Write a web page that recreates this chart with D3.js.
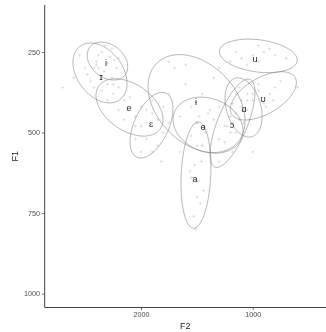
<!DOCTYPE html>
<html>
<head>
<meta charset="utf-8">
<script src="https://cdn.jsdelivr.net/npm/d3@7"></script>
<style>
  body { margin: 0; background: #fff; }
  svg { display: block; font-family: "Liberation Sans", Arial, sans-serif; will-change: transform; }
</style>
</head>
<body>
<svg id="chart" width="326" height="332"></svg>
<script>
// vowel labels and their mean positions (F2, F1 in Hz)
const vowels = ["i", "ɪ", "e", "ɛ", "ɨ", "ɵ", "a", "ɔ", "ɑ", "ʊ", "u"];
const labelF2 = [2313, 2358, 2107, 1910, 1508, 1445, 1517, 1185, 1078, 908, 979];
const labelF1 = [284, 328, 424, 474, 405, 483, 644, 477, 427, 396, 272];

// ellipse centre, half-widths and tilt (correlation) per vowel
const ellF2 = [2300, 2367, 2103, 1906, 1503, 1400, 1508, 1181, 1082, 905, 950];
const ellF1 = [278, 315, 422, 477, 410, 477, 632, 471, 422, 386, 262];
const ellRadF2 = [181, 242, 300, 192, 434, 313, 134, 201, 166, 296, 349];
const ellRadF1 = [59, 93, 89, 102, 152, 87, 165, 137, 92, 75, 52];
const ellRho = [-0.3, -0.35, -0.42, 0.5, -0.35, -0.2, 0.15, 0.7, -0.3, 0.55, -0.25];

// token measurements [F2, F1]
const tokens = [
  [2350,250],[2280,265],[2400,290],[2220,300],[2330,310],[2260,240],[2300,285],[2380,260],[2240,275],[2320,230],[2420,300],[2200,270],
  [2500,300],[2450,340],[2400,280],[2300,350],[2550,260],[2350,370],[2480,320],[2260,330],[2420,360],[2600,330],[2380,300],[2200,360],
  [2250,380],[2150,400],[2050,450],[2000,420],[2200,430],[2100,390],[1950,470],[2300,400],[2050,480],[2150,460],[1900,440],[2250,350],
  [1950,520],[1850,460],[1900,560],[1800,500],[2000,480],[1950,430],[1850,540],[1750,470],[2000,560],[1900,400],[1820,590],[2050,520],
  [1700,300],[1600,350],[1450,380],[1550,420],[1350,330],[1650,450],[1500,470],[1400,440],[1750,380],[1300,420],[1600,290],[1800,420],
  [1500,470],[1420,500],[1350,460],[1300,520],[1450,540],[1250,480],[1550,510],[1380,430],[1200,500],[1480,450],
  [1520,600],[1480,650],[1550,640],[1500,700],[1460,590],[1530,760],[1500,540],[1470,720],[1560,620],[1510,800],[1440,680],
  [1200,450],[1150,500],[1250,530],[1100,420],[1180,560],[1120,460],[1300,590],[1050,400],[1230,480],[1150,380],
  [1100,400],[1050,430],[1150,440],[1000,380],[1080,470],[1120,360],[1030,460],[1180,410],
  [950,370],[850,380],[900,410],[1000,400],[800,360],[950,350],[880,420],[750,340],[1050,380],[820,400],
  [1000,260],[900,250],[1100,270],[850,240],[950,280],[800,260],[1150,250],[1050,290],[700,270],[950,230],[1200,280],
  [2700,360],[1650,560],[1750,280],[600,360],[1300,300],[1000,560]
];

const f2Domain = [2862, 344];
const f1Domain = [104, 1043];
const f1Ticks = [250, 500, 750, 1000];
const f2Ticks = [2000, 1000];

const svg = d3.select("#chart");
const plotLeft = 44.7, plotRight = 326, plotTop = 5, plotBottom = 307.5;

const x = d3.scaleLinear().domain(f2Domain).range([plotLeft, plotRight]);
const y = d3.scaleLinear().domain(f1Domain).range([plotTop, plotBottom]);

// points as small crosses
svg.append("g")
  .selectAll("path")
  .data(tokens)
  .enter()
  .append("path")
  .attr("d", d => {
    const px = x(d[0]), py = y(d[1]);
    return `M${px - 1.5},${py}H${px + 1.5}M${px},${py - 1.5}V${py + 1.5}`;
  })
  .attr("stroke", "#d0d0d0")
  .attr("stroke-width", 0.6)
  .attr("fill", "none");

// ellipses
const line = d3.line().x(d => x(d[0])).y(d => y(d[1]));
const ellipsePts = (i) => {
  const pts = [];
  const r = ellRho[i];
  for (let k = 0; k <= 100; k++) {
    const t = (k / 100) * 2 * Math.PI;
    pts.push([
      ellF2[i] + ellRadF2[i] * Math.cos(t),
      ellF1[i] + ellRadF1[i] * (r * Math.cos(t) + Math.sqrt(1 - r * r) * Math.sin(t))
    ]);
  }
  return pts;
};

svg.append("g")
  .selectAll("path")
  .data(vowels.map((v, i) => i))
  .enter()
  .append("path")
  .attr("d", i => line(ellipsePts(i)))
  .attr("fill", "none")
  .attr("stroke", "#7a7a7a")
  .attr("stroke-width", 0.55);

// vowel labels
svg.append("g")
  .selectAll("text")
  .data(vowels)
  .enter()
  .append("text")
  .attr("x", (d, i) => x(labelF2[i]))
  .attr("y", (d, i) => y(labelF1[i]))
  .attr("dy", "0.35em")
  .attr("text-anchor", "middle")
  .attr("font-size", 9)
  .attr("fill", "#222")
  .text(d => d);

// axes
const yAxis = svg.append("g")
  .attr("transform", `translate(${plotLeft},0)`)
  .call(d3.axisLeft(y).tickValues(f1Ticks).tickSize(2.7).tickPadding(2).tickFormat(d3.format("d")));
const xAxis = svg.append("g")
  .attr("transform", `translate(0,${plotBottom})`)
  .call(d3.axisBottom(x).tickValues(f2Ticks).tickSize(2.7).tickPadding(2).tickFormat(d3.format("d")));

[xAxis, yAxis].forEach(a => {
  a.select(".domain").attr("stroke", "#444").attr("stroke-width", 1);
  a.selectAll(".tick line").attr("stroke", "#444").attr("stroke-width", 0.8);
  a.selectAll(".tick text")
    .attr("fill", "#4d4d4d")
    .attr("font-size", 7.2)
    .attr("font-family", "Liberation Sans, Arial, sans-serif");
});
yAxis.select(".domain").attr("d", `M0,${plotTop}V${plotBottom}`);
xAxis.select(".domain").attr("d", `M${plotLeft},0H${plotRight}`);

// axis titles
svg.append("text")
  .attr("x", (plotLeft + plotRight) / 2)
  .attr("y", 329)
  .attr("text-anchor", "middle")
  .attr("font-size", 9)
  .attr("fill", "#222")
  .text("F2");
svg.append("text")
  .attr("transform", `translate(15,${(plotTop + plotBottom) / 2}) rotate(-90)`)
  .attr("text-anchor", "middle")
  .attr("dy", "0.35em")
  .attr("font-size", 9)
  .attr("fill", "#222")
  .text("F1");
</script>
</body>
</html>
